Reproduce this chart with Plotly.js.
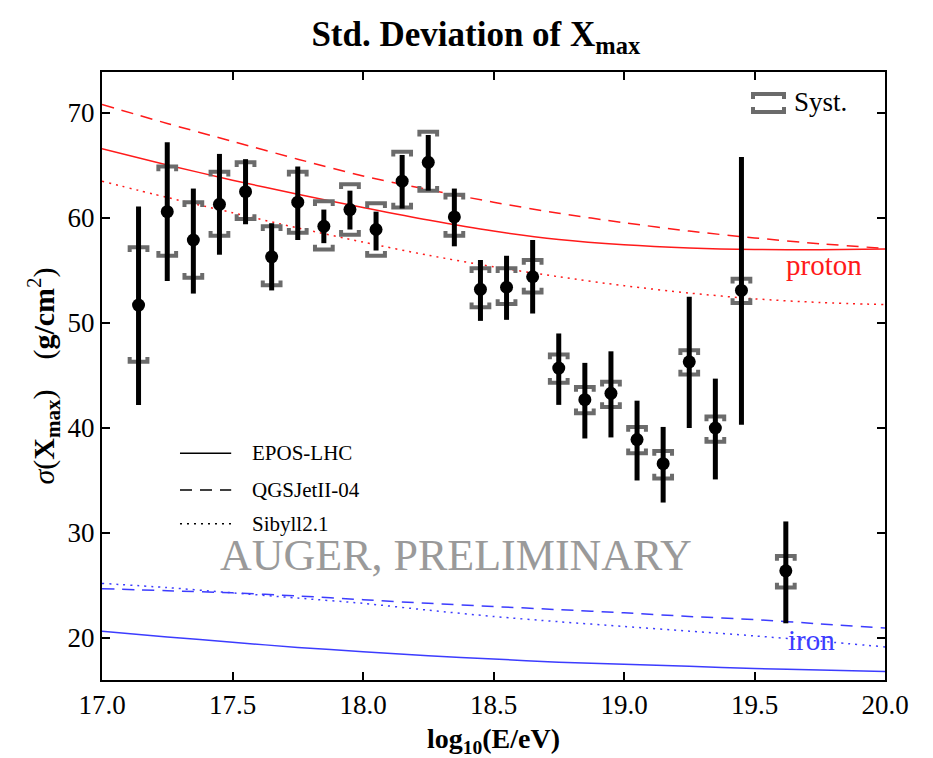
<!DOCTYPE html>
<html>
<head>
<meta charset="utf-8">
<script src="https://cdn.plot.ly/plotly-3.0.1.min.js"></script>
<style>html,body{margin:0;padding:0;background:#fff;}#chart{width:933px;height:758px;}</style>
</head>
<body>
<div id="chart"></div>
<script>
// ---- data ----
const energy  = [17.14,17.25,17.35,17.45,17.55,17.65,17.75,17.85,17.95,18.05,18.15,18.25,18.35,18.45,18.55,18.65,18.75,18.85,18.95,19.05,19.15,19.25,19.35,19.45,19.62];
const sigma   = [51.7,60.6,57.9,61.3,62.5,56.3,61.5,59.2,60.8,58.9,63.5,65.3,60.1,53.2,53.4,54.4,45.7,42.7,43.3,38.9,36.6,46.3,40.0,53.1,26.4];
const statHi  = [61.1,67.2,62.8,66.1,65.6,59.5,64.9,60.8,62.6,60.6,66.0,67.9,62.8,56.0,56.4,57.9,49.0,46.2,47.3,42.6,40.1,52.5,44.7,65.8,31.1];
const statLo  = [42.2,54.0,52.8,56.5,59.4,53.1,57.9,57.6,58.9,56.9,60.9,62.6,57.3,50.2,50.3,50.9,42.2,39.0,39.1,35.0,32.9,40.0,35.1,40.3,21.4];
const systHi  = [57.2,64.9,61.5,64.4,65.3,59.2,64.4,61.6,63.2,61.4,66.3,68.2,62.2,55.2,55.2,56.0,47.0,43.9,44.4,40.1,37.8,47.4,41.1,54.2,27.8];
const systLo  = [46.3,56.4,54.3,58.3,59.9,53.6,58.6,57.0,58.4,56.4,61.0,62.6,58.3,51.5,51.8,52.9,44.3,41.4,42.0,37.6,35.2,45.1,38.7,51.9,24.8];

const modelE        = [17.0,17.25,17.5,17.75,18.0,18.25,18.5,18.75,19.0,19.25,19.5,19.75,20.0];
const protonEPOS    = [66.6,65.05,63.6,62.25,61.0,59.8,58.75,57.95,57.45,57.15,57.0,56.98,57.05];
const protonQGSJet  = [70.8,69.0,67.3,65.6,64.0,62.7,61.5,60.45,59.55,58.75,58.1,57.55,57.1];
const protonSibyll  = [63.5,61.95,60.5,59.05,57.7,56.45,55.35,54.4,53.55,52.85,52.3,51.95,51.75];
const ironEPOS      = [20.65,20.1,19.6,19.1,18.7,18.3,18.0,17.7,17.5,17.3,17.1,16.95,16.8];
const ironQGSJet    = [24.7,24.5,24.3,24.0,23.65,23.3,23.0,22.7,22.4,22.05,21.75,21.35,20.95];
const ironSibyll    = [25.2,24.8,24.3,23.8,23.3,22.65,22.05,21.55,21.1,20.65,20.2,19.7,19.15];

const legendNames = ['EPOS-LHC','QGSJetII-04','Sibyll2.1'];
const xTickVals = [17.0,17.5,18.0,18.5,19.0,19.5,20.0];
const yTickVals = [20,30,40,50,60,70];

// ---- styles ----
const FONT = 'Liberation Serif';
const RED = '#ff1a1a';
const BLUE = '#3c3cff';
const GREY = '#6b6b6b';
const DASH = '12px,8px';
const DOT = '2px,5px';

function curve(y, color, dash) {
  return {x: modelE, y: y, mode: 'lines', type: 'scatter', hoverinfo: 'skip', showlegend: false,
          line: {color: color, width: 1.5, dash: dash, shape: 'spline', smoothing: 0.8}};
}

// systematic brackets built from the data arrays
const hw = 0.034, leg = 0.45;
const bx = [], by = [];
for (let i = 0; i < energy.length; i++) {
  const e = energy[i];
  bx.push(e - hw, e - hw, e + hw, e + hw, null);
  by.push(systHi[i] - leg, systHi[i], systHi[i], systHi[i] - leg, null);
  bx.push(e - hw, e - hw, e + hw, e + hw, null);
  by.push(systLo[i] + leg, systLo[i], systLo[i], systLo[i] + leg, null);
}

const traces = [
  curve(protonEPOS, RED, 'solid'),
  curve(protonQGSJet, RED, DASH),
  curve(protonSibyll, RED, DOT),
  curve(ironEPOS, BLUE, 'solid'),
  curve(ironQGSJet, BLUE, DASH),
  curve(ironSibyll, BLUE, DOT),
  {x: bx, y: by, mode: 'lines', type: 'scatter', connectgaps: false, showlegend: false, hoverinfo: 'skip',
   line: {color: GREY, width: 4}},
  {x: energy, y: sigma, mode: 'markers', type: 'scatter', showlegend: false,
   marker: {color: '#000', size: 13, symbol: 'circle'},
   error_y: {type: 'data', symmetric: false,
             array: statHi.map((v, i) => v - sigma[i]),
             arrayminus: sigma.map((v, i) => v - statLo[i]),
             color: '#000', thickness: 5, width: 0}}
];

// legend (drawn in paper coordinates)
const legY = [0.373, 0.3125, 0.257];
const legDash = ['solid', DASH, DOT];
const shapes = [];
const annotations = [];
for (let k = 0; k < legendNames.length; k++) {
  shapes.push({type: 'line', xref: 'paper', yref: 'paper', x0: 0.0996, x1: 0.165, y0: legY[k], y1: legY[k],
               line: {color: '#000', width: 1.5, dash: legDash[k]}});
  annotations.push({xref: 'paper', yref: 'paper', x: 0.189, y: legY[k], xanchor: 'left', yanchor: 'middle',
                    text: legendNames[k], showarrow: false, font: {family: FONT, size: 21, color: '#000'}});
}
// Syst. key bracket
const sx0 = (753 - 102) / 783, sx1 = (784 - 102) / 783;
const syT = (680 - 94) / 608, syB = (680 - 112) / 608, sl = 5 / 608;
shapes.push({type: 'path', xref: 'paper', yref: 'paper',
             path: `M${sx0},${syT - sl} L${sx0},${syT} L${sx1},${syT} L${sx1},${syT - sl}`,
             line: {color: GREY, width: 4}});
shapes.push({type: 'path', xref: 'paper', yref: 'paper',
             path: `M${sx0},${syB + sl} L${sx0},${syB} L${sx1},${syB} L${sx1},${syB + sl}`,
             line: {color: GREY, width: 4}});
annotations.push({xref: 'paper', yref: 'paper', x: (792 - 102) / 783, y: (680 - 102) / 608, xanchor: 'left', yanchor: 'middle',
                  text: 'Syst.', showarrow: false, font: {family: FONT, size: 27, color: '#000'}});
annotations.push({xref: 'paper', yref: 'paper', x: 0.452, y: 0.205, xanchor: 'center', yanchor: 'middle',
                  text: 'AUGER, PRELIMINARY', showarrow: false, font: {family: FONT, size: 44, color: '#9a9a9a'}});
annotations.push({xref: 'paper', yref: 'paper', x: 0.871, y: 0.683, xanchor: 'left', yanchor: 'middle',
                  text: 'proton', showarrow: false, font: {family: FONT, size: 29, color: RED}});
annotations.push({xref: 'paper', yref: 'paper', x: 0.873, y: 0.066, xanchor: 'left', yanchor: 'middle',
                  text: 'iron', showarrow: false, font: {family: FONT, size: 29, color: BLUE}});

const axisCommon = {showline: true, linecolor: '#000', linewidth: 2, mirror: 'ticks', ticks: 'inside',
                    ticklen: 8, tickwidth: 2, tickcolor: '#000', showgrid: false, zeroline: false,
                    tickfont: {family: FONT, size: 27, color: '#000'}};

const layout = {
  width: 933, height: 758,
  margin: {l: 102, r: 48, t: 72, b: 78},
  paper_bgcolor: '#fff', plot_bgcolor: '#fff',
  font: {family: FONT},
  showlegend: false,
  title: {text: '<b>Std. Deviation of X<sub>max</sub></b>', font: {family: FONT, size: 35, color: '#000'},
          x: 0.51, xanchor: 'center', xref: 'container', y: 0.955, yanchor: 'middle', yref: 'container'},
  xaxis: Object.assign({}, axisCommon, {range: [17.0, 20.0], tickvals: xTickVals, ticktext: xTickVals.map(v => v.toFixed(1)),
          title: {text: '<b>log<sub>10</sub>(E/eV)</b>', font: {family: FONT, size: 28, color: '#000'}, standoff: 9}}),
  yaxis: Object.assign({}, axisCommon, {range: [16, 73.9], tickvals: yTickVals,
          title: {text: '<i>σ</i>(<b>X</b><sub><b>max</b></sub>)    (<b>g/cm</b><sup>2</sup>)', font: {family: FONT, size: 30, color: '#000'}, standoff: 4}}),
  shapes: shapes,
  annotations: annotations
};

Plotly.newPlot('chart', traces, layout, {displayModeBar: false, staticPlot: true});
</script>
</body>
</html>
